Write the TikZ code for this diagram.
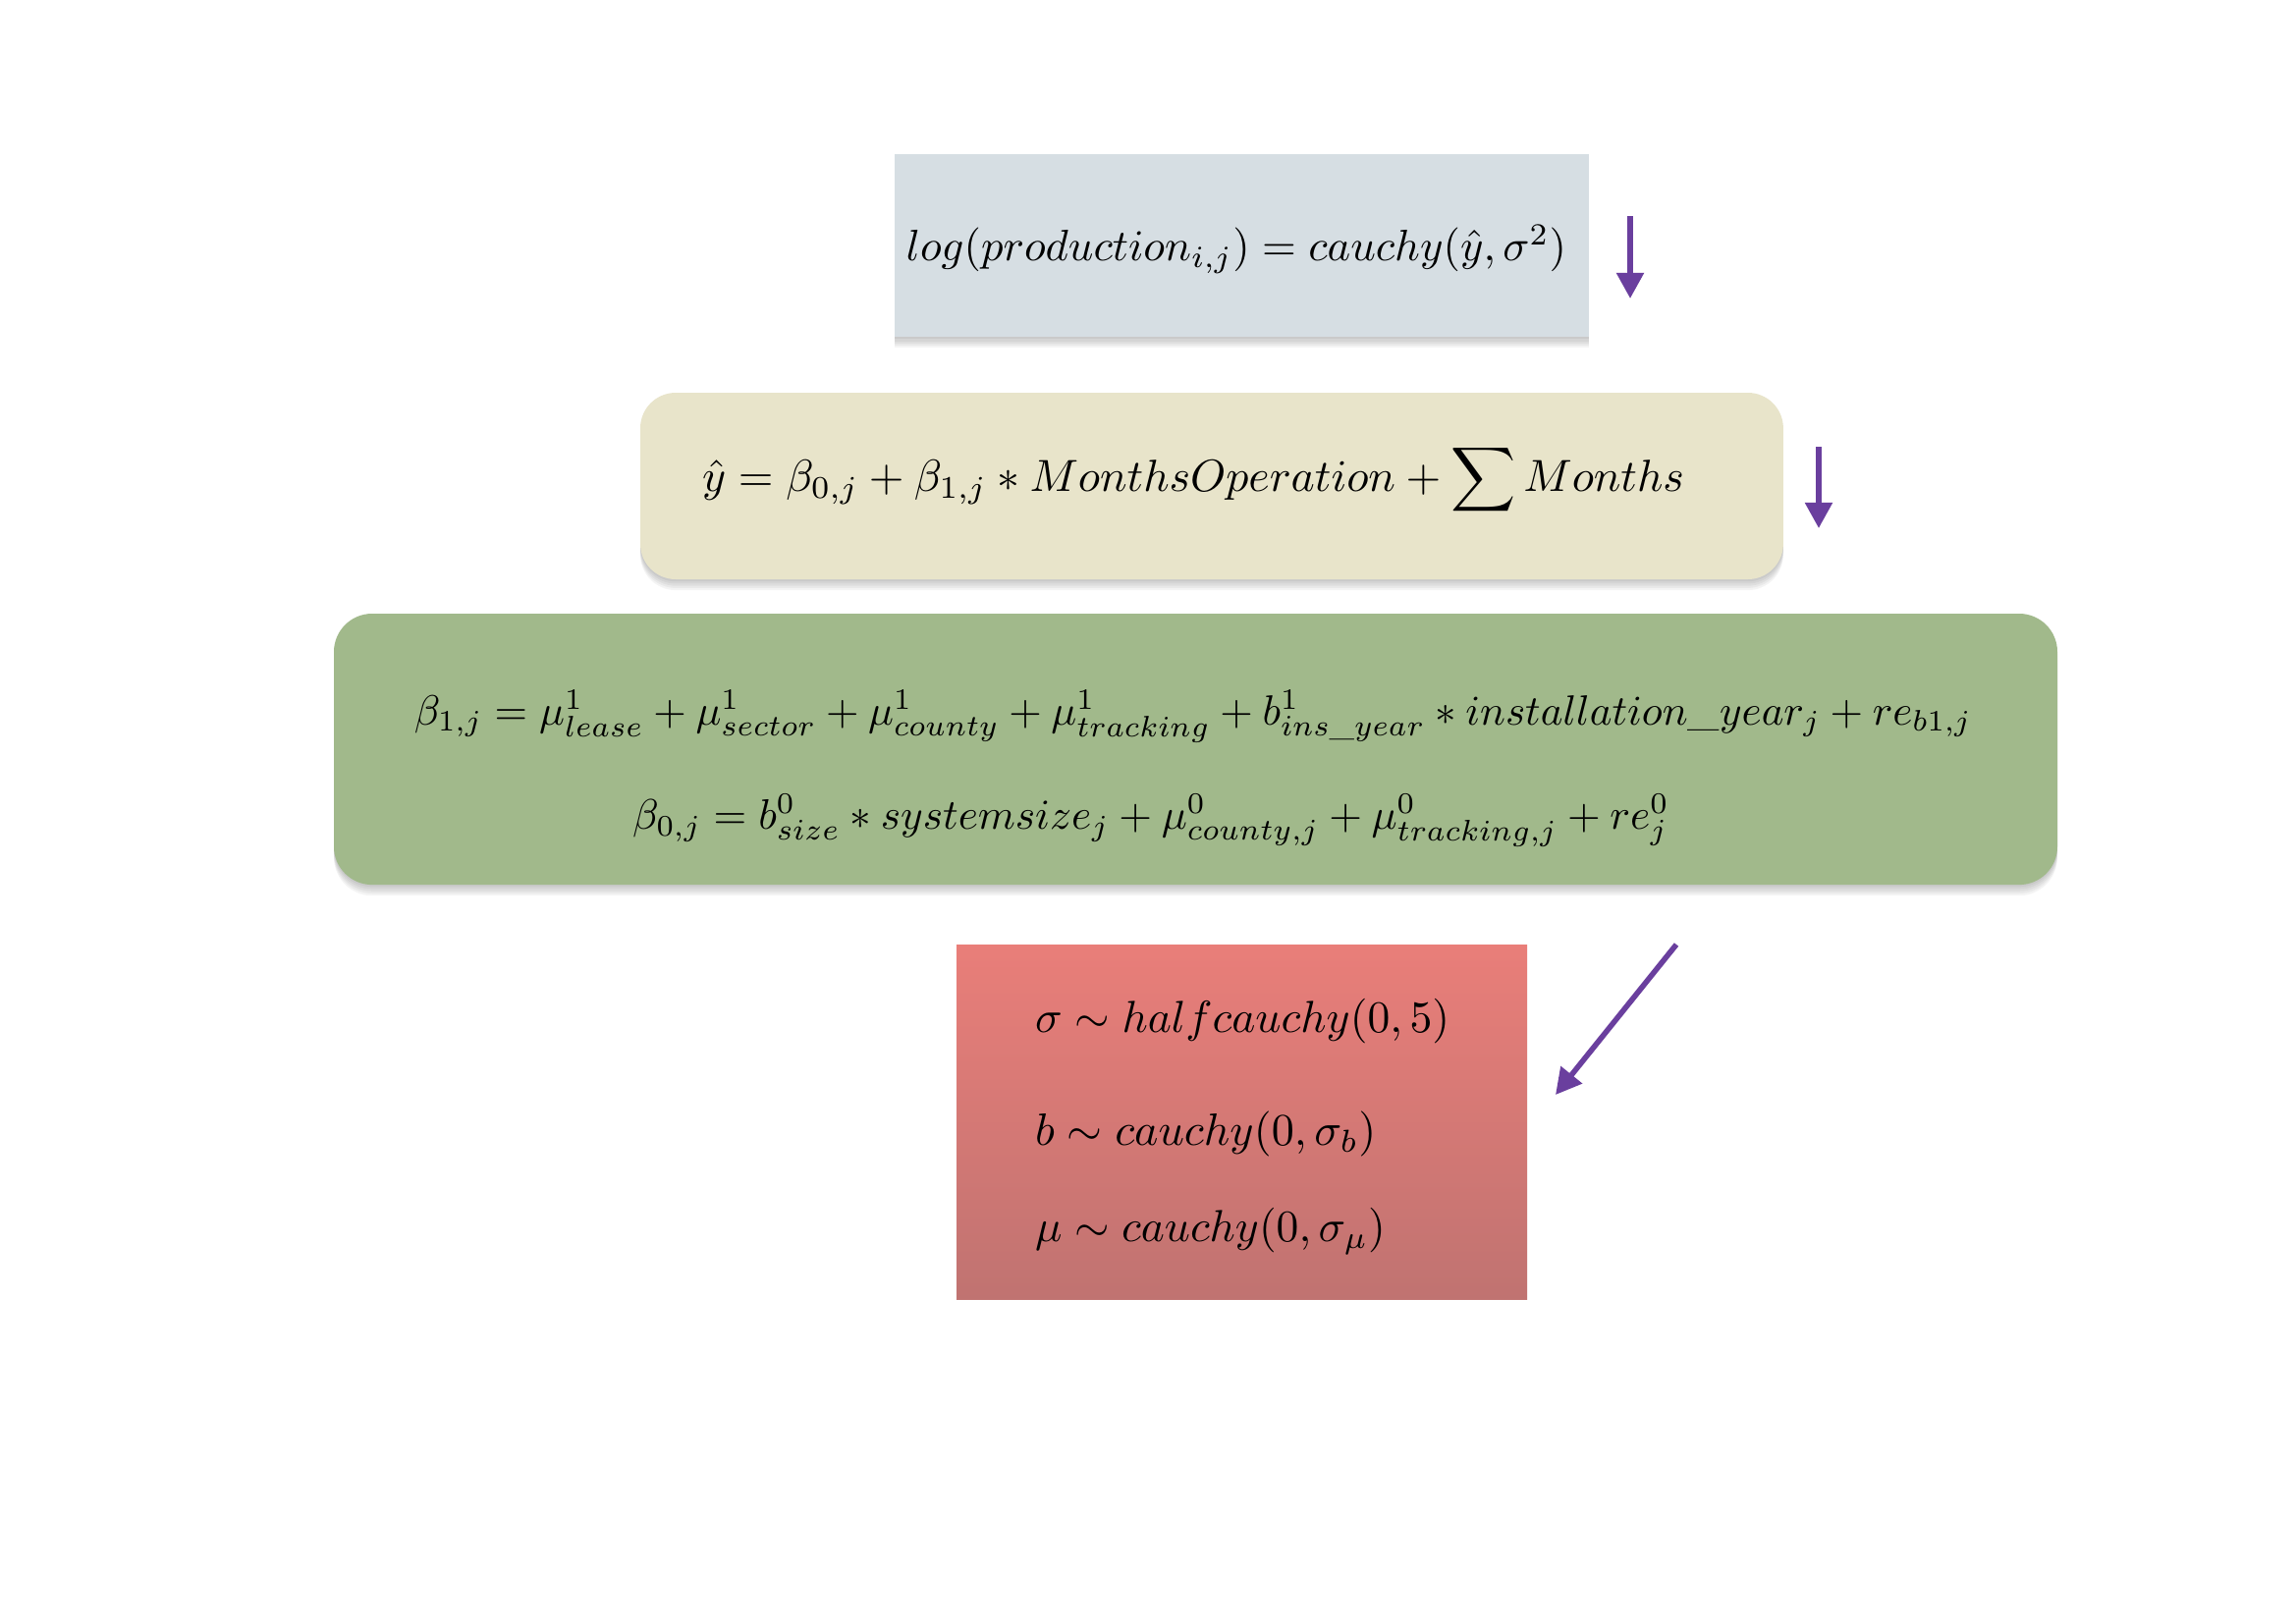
\documentclass[tikz,border=0pt]{standalone}
\usepackage{graphicx}
\usetikzlibrary{arrows.meta}
\definecolor{likeblue}{HTML}{D6DEE3}
\definecolor{priorcream}{HTML}{E8E4CA}
\definecolor{coefgreen}{HTML}{A1B98B}
\definecolor{hyperredtop}{HTML}{E97E79}
\definecolor{hyperredbot}{HTML}{C07371}
\definecolor{flowpurple}{HTML}{6A3F9E}
\tikzset{
  panel/.style={anchor=north west, inner sep=0pt, outer sep=0pt},
  shadowlayer/.style={preaction={fill=black, fill opacity=0.045,
      transform canvas={yshift=-#1}}},
  softshadow/.style={shadowlayer=0.8pt, shadowlayer=1.6pt, shadowlayer=2.4pt,
      shadowlayer=3.2pt, shadowlayer=4pt},
  eq/.style={inner sep=0pt, outer sep=0pt, text=black},
  flow/.style={draw=flowpurple, line width=2pt,
      -{Triangle[width=9.7pt,length=9.4pt]}}
}
\begin{document}
\begin{tikzpicture}[x=0.36pt,y=-0.36pt]
\useasboundingbox (0,0) rectangle (2338,1652);
\fill[white] (0,0) rectangle (2338,1652);

% likelihood
\node[panel, fill=likeblue, softshadow, minimum width=254.5pt, minimum height=67pt]
  (lik) at (911,157) {};
\node[eq] (likeq) at (1259,254)
  {\resizebox{242pt}{!}{$log(production_{i,j}) = cauchy(\hat{y},\sigma^2)$}};

% linear predictor
\node[panel, fill=priorcream, rounded corners=13pt, softshadow,
  minimum width=419pt, minimum height=68.4pt] (lin) at (652,400) {};
\node[eq] (lineq) at (1215,489)
  {\resizebox{360pt}{!}{$\hat{y} = \beta_{0,j} + \beta_{1,j} * MonthsOperation + \displaystyle\sum Months$}};

% group-level coefficients
\node[panel, fill=coefgreen, rounded corners=14pt, softshadow,
  minimum width=631.8pt, minimum height=99.4pt] (coef) at (340,625) {};
\node[eq] (coefone) at (1215,730)
  {\resizebox{571pt}{!}{$\beta_{1,j} = \mu^1_{lease} + \mu^1_{sector} + \mu^1_{county} + \mu^1_{tracking} + b^1_{ins\mbox{\scriptsize\_}year} * installation\_year_j + re_{b1,j}$}};
\node[eq] (coefzero) at (1172,836)
  {\resizebox{380pt}{!}{$\beta_{0,j} = b^0_{size} * systemsize_j + \mu^0_{county,j} + \mu^0_{tracking,j} + re^0_j$}};

% hyperpriors
\node[panel, top color=hyperredtop, bottom color=hyperredbot, draw=none,
  minimum width=209.2pt, minimum height=130pt] (hyper) at (974,962) {};
\node[eq, anchor=west] (hsig) at (1054,1040)
  {\resizebox{152pt}{!}{$\sigma \sim halfcauchy(0,5)$}};
\node[eq, anchor=west] (hb) at (1054,1155)
  {\resizebox{125pt}{!}{$b \sim cauchy(0,\sigma_b)$}};
\node[eq, anchor=west] (hmu) at (1054,1254)
  {\resizebox{128.5pt}{!}{$\mu \sim cauchy(0,\sigma_\mu)$}};

% flow arrows
\coordinate (a1s) at (1660,220);
\coordinate (a1e) at (1660,304);
\coordinate (a2s) at (1852,455);
\coordinate (a2e) at (1852,538);
\coordinate (a3s) at (1707,962);
\coordinate (a3e) at (1584,1115);
\draw[flow] (a1s) -- (a1e);
\draw[flow] (a2s) -- (a2e);
\draw[flow] (a3s) -- (a3e);
\end{tikzpicture}
\end{document}
